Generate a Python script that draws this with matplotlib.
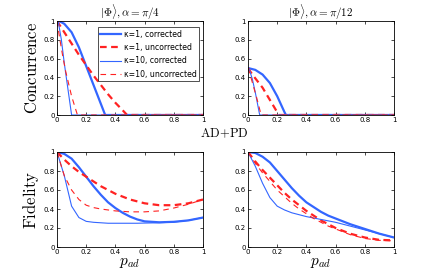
import numpy as np
import matplotlib
matplotlib.use('Agg')
import matplotlib.pyplot as plt

plt.rcParams['mathtext.fontset'] = 'cm'

blue = '#3366ff'
red = '#ff2222'

# ---- concurrence, alpha = pi/4 ----
c4_k1c_x = [0, 0.02, 0.05, 0.1, 0.15, 0.2, 0.25, 0.3, 0.33, 1]
c4_k1c_y = [1, 0.995, 0.97, 0.88, 0.72, 0.52, 0.32, 0.12, 0, 0]
c4_k1u_x = [0, 0.05, 0.1, 0.15, 0.2, 0.25, 0.3, 0.35, 0.4, 0.45, 0.48, 1]
c4_k1u_y = [1, 0.88, 0.76, 0.64, 0.53, 0.42, 0.32, 0.22, 0.13, 0.05, 0, 0]
c4_k10c_x = [0, 0.01, 0.03, 0.05, 0.08, 0.1, 1]
c4_k10c_y = [1, 0.98, 0.8, 0.55, 0.22, 0, 0]
c4_k10u_x = [0, 0.02, 0.04, 0.06, 0.08, 0.1, 0.12, 0.14, 1]
c4_k10u_y = [1, 0.8, 0.62, 0.46, 0.33, 0.2, 0.1, 0, 0]

# ---- concurrence, alpha = pi/12 ----
c12_k1c_x = [0, 0.05, 0.1, 0.15, 0.2, 0.25, 0.26, 1]
c12_k1c_y = [0.5, 0.48, 0.43, 0.34, 0.2, 0.03, 0, 0]
c12_k1u_x = [0, 0.03, 0.06, 0.1, 0.15, 0.2, 0.21, 1]
c12_k1u_y = [0.5, 0.43, 0.37, 0.29, 0.16, 0.03, 0, 0]
c12_k10c_x = [0, 0.01, 0.03, 0.05, 0.08, 1]
c12_k10c_y = [0.5, 0.48, 0.38, 0.24, 0, 0]
c12_k10u_x = [0, 0.02, 0.04, 0.06, 0.08, 0.09, 1]
c12_k10u_y = [0.5, 0.4, 0.29, 0.18, 0.06, 0, 0]

# ---- fidelity ----
px = [0, 0.05, 0.1, 0.15, 0.2, 0.25, 0.3, 0.35, 0.4, 0.45, 0.5, 0.55, 0.6, 0.7, 0.8, 0.9, 1]
f4_k1c = [1, 0.98, 0.93, 0.84, 0.74, 0.64, 0.55, 0.47, 0.41, 0.36, 0.32, 0.29, 0.27, 0.26, 0.265, 0.28, 0.31]
f4_k1u = [1, 0.92, 0.85, 0.79, 0.74, 0.69, 0.64, 0.6, 0.56, 0.53, 0.5, 0.48, 0.46, 0.44, 0.44, 0.46, 0.5]
f4_k10c = [1, 0.75, 0.43, 0.31, 0.27, 0.26, 0.255, 0.25, 0.25, 0.25, 0.25, 0.25, 0.252, 0.255, 0.262, 0.28, 0.31]
f4_k10u = [1, 0.75, 0.6, 0.5, 0.44, 0.415, 0.4, 0.39, 0.38, 0.375, 0.37, 0.37, 0.37, 0.38, 0.41, 0.45, 0.5]

f12_k1c = [1, 0.99, 0.95, 0.89, 0.8, 0.71, 0.62, 0.54, 0.47, 0.42, 0.37, 0.33, 0.3, 0.24, 0.19, 0.14, 0.1]
f12_k1u = [1, 0.9, 0.81, 0.73, 0.65, 0.57, 0.5, 0.44, 0.38, 0.33, 0.28, 0.24, 0.2, 0.14, 0.1, 0.075, 0.07]
f12_k10c = [1, 0.85, 0.67, 0.52, 0.43, 0.39, 0.36, 0.34, 0.32, 0.305, 0.29, 0.275, 0.26, 0.22, 0.18, 0.14, 0.1]
f12_k10u = [1, 0.88, 0.78, 0.69, 0.6, 0.53, 0.46, 0.4, 0.35, 0.3, 0.26, 0.22, 0.19, 0.13, 0.09, 0.07, 0.065]

fig = plt.figure(figsize=(4.36, 2.78), dpi=100)
W, H = 436., 278.
def box(x0, y0, x1, y1):
    return [x0 / W, 1 - y1 / H, (x1 - x0) / W, (y1 - y0) / H]

ax1 = fig.add_axes(box(57, 21, 203, 115))
ax2 = fig.add_axes(box(248, 21, 394, 115))
ax3 = fig.add_axes(box(57, 152, 203, 247))
ax4 = fig.add_axes(box(248, 152, 394, 247))

def draw(ax, k1c, k1u, k10c, k10u):
    ax.plot(k1c[0], k1c[1], color=blue, lw=1.6, label='κ=1, corrected')
    ax.plot(k1u[0], k1u[1], color=red, lw=1.6, ls=(0, (3, 2)), label='κ=1, uncorrected')
    ax.plot(k10c[0], k10c[1], color=blue, lw=0.8, label='κ=10, corrected')
    ax.plot(k10u[0], k10u[1], color=red, lw=0.8, ls=(0, (5, 4)), label='κ=10, uncorrected')

draw(ax1, (c4_k1c_x, c4_k1c_y), (c4_k1u_x, c4_k1u_y), (c4_k10c_x, c4_k10c_y), (c4_k10u_x, c4_k10u_y))
draw(ax2, (c12_k1c_x, c12_k1c_y), (c12_k1u_x, c12_k1u_y), (c12_k10c_x, c12_k10c_y), (c12_k10u_x, c12_k10u_y))
draw(ax3, (px, f4_k1c), (px, f4_k1u), (px, f4_k10c), (px, f4_k10u))
draw(ax4, (px, f12_k1c), (px, f12_k1u), (px, f12_k10c), (px, f12_k10u))

ticks = [0, 0.2, 0.4, 0.6, 0.8, 1]
labels = ['0', '0.2', '0.4', '0.6', '0.8', '1']
for ax in (ax1, ax2, ax3, ax4):
    ax.set_xlim(0, 1)
    ax.set_ylim(0, 1)
    ax.set_xticks(ticks)
    ax.set_xticklabels(labels)
    ax.set_yticks(ticks)
    ax.set_yticklabels(labels)
    ax.tick_params(labelsize=5, length=2, width=0.5, pad=1.5, top=True, right=True, direction='in')
    for s in ax.spines.values():
        s.set_linewidth(0.6)

ax1.set_title(r'$|\Phi\rangle, \alpha=\pi/4$', fontsize=8, pad=3)
ax2.set_title(r'$|\Phi\rangle, \alpha=\pi/12$', fontsize=8, pad=3)
ax1.set_ylabel(r'$\mathrm{Concurrence}$', fontsize=12, labelpad=2)
ax3.set_ylabel(r'$\mathrm{Fidelity}$', fontsize=12, labelpad=2)
ax3.set_xlabel(r'$p_{ad}$', fontsize=11, labelpad=0)
ax4.set_xlabel(r'$p_{ad}$', fontsize=11, labelpad=0)
fig.text(224 / W, 1 - 133 / H, r'$\mathrm{AD\!+\!PD}$', fontsize=9, ha='center', va='center')

leg = ax1.legend(loc='upper right', fontsize=5.6, frameon=True, fancybox=False,
                 edgecolor='black', borderpad=0.35, handlelength=2.6, handletextpad=0.4,
                 labelspacing=0.55, borderaxespad=0, bbox_to_anchor=(0.975, 0.935))
leg.get_frame().set_linewidth(0.6)

fig.savefig('out.png', dpi=100)
